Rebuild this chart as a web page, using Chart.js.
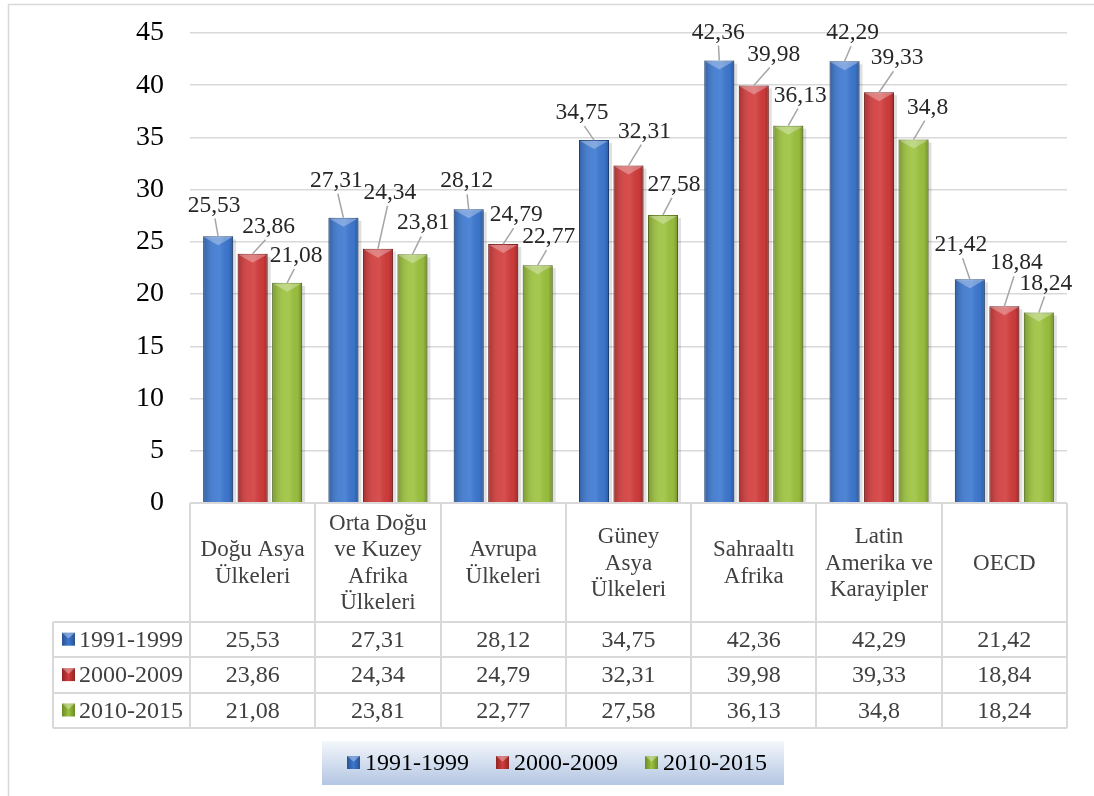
<!DOCTYPE html>
<html lang="tr">
<head>
<meta charset="utf-8">
<title>Bölgelere göre oranlar</title>
<script src="https://cdn.jsdelivr.net/npm/chart.js@4.4.1/dist/chart.umd.min.js"></script>
<style>
  html, body { margin: 0; padding: 0; background: #fff; }
  canvas { display: block; }
</style>
</head>
<body>
<canvas id="grafik" width="1094" height="796"></canvas>
<script>
// kategoriler (tablodaki satır kırılımlarıyla)
const categories = [
    ['Doğu Asya', 'Ülkeleri'],
    ['Orta Doğu', 've Kuzey', 'Afrika', 'Ülkeleri'],
    ['Avrupa', 'Ülkeleri'],
    ['Güney', 'Asya', 'Ülkeleri'],
    ['Sahraaltı', 'Afrika'],
    ['Latin', 'Amerika ve', 'Karayipler'],
    ['OECD']
];

// dönemler
const seriesNames = ['1991-1999', '2000-2009', '2010-2015'];

// değerler
const values1991 = [25.53, 27.31, 28.12, 34.75, 42.36, 42.29, 21.42];
const values2000 = [23.86, 24.34, 24.79, 32.31, 39.98, 39.33, 18.84];
const values2010 = [21.08, 23.81, 22.77, 27.58, 36.13, 34.8, 18.24];

// y ekseni
const yMin = 0;
const yMax = 45;
const yStep = 5;

// renkler
const colors = ['#3d78d0', '#d23c3c', '#9cc23e'];
const borders = ['#2a528f', '#8f2424', '#6a8a26'];
const serif = "'Liberation Serif', 'Times New Roman', serif";

// Türkçe ondalık virgül
function fmt(v) {
    return String(v).replace('.', ',');
}

// küçük kabartmalı kare (tablo ve lejant için)
function drawMarker(ctx, x, y, s, i) {
    const g = ctx.createLinearGradient(x, y, x + s, y);
    g.addColorStop(0, borders[i]);
    g.addColorStop(0.5, colors[i]);
    g.addColorStop(1, borders[i]);
    ctx.fillStyle = g;
    ctx.fillRect(x, y, s, s);
    ctx.fillStyle = 'rgba(255,255,255,0.35)';
    ctx.beginPath();
    ctx.moveTo(x, y);
    ctx.lineTo(x + s, y);
    ctx.lineTo(x + s / 2, y + s * 0.45);
    ctx.closePath();
    ctx.fill();
}

const tablePlugin = {
    id: 'tablo',
    beforeDraw(chart) {
        const ctx = chart.ctx;
        ctx.save();
        ctx.fillStyle = '#fff';
        ctx.fillRect(0, 0, chart.width, chart.height);
        // dış çerçeve
        ctx.strokeStyle = '#d9d9d9';
        ctx.lineWidth = 1.5;
        ctx.beginPath();
        ctx.moveTo(8.5, chart.height);
        ctx.lineTo(8.5, 4.5);
        ctx.lineTo(chart.width, 4.5);
        ctx.stroke();
        ctx.restore();
    },
    beforeDatasetsDraw(chart) {
        // hafif gölge
        const ctx = chart.ctx;
        ctx.save();
        chart.data.datasets.forEach((ds, i) => {
            chart.getDatasetMeta(i).data.forEach(el => {
                const p = el.getProps(['x', 'y', 'base', 'width'], true);
                ctx.fillStyle = 'rgba(0,0,0,0.12)';
                ctx.fillRect(p.x - p.width / 2 + 3, p.y + 3, p.width, p.base - p.y - 3);
            });
        });
        ctx.restore();
    },
    afterDatasetsDraw(chart, args, opts) {
        const ctx = chart.ctx;
        ctx.save();
        chart.data.datasets.forEach((ds, i) => {
            chart.getDatasetMeta(i).data.forEach((el, j) => {
                const p = el.getProps(['x', 'y', 'base', 'width'], true);
                const left = p.x - p.width / 2;
                // silindir gölgelendirmesi
                const g = ctx.createLinearGradient(left, 0, left + p.width, 0);
                g.addColorStop(0, 'rgba(0,0,0,0.22)');
                g.addColorStop(0.4, 'rgba(255,255,255,0.08)');
                g.addColorStop(0.55, 'rgba(255,255,255,0.10)');
                g.addColorStop(0.85, 'rgba(0,0,0,0.04)');
                g.addColorStop(1, 'rgba(0,0,0,0.26)');
                ctx.fillStyle = g;
                ctx.fillRect(left, p.y, p.width, p.base - p.y);
                // üst kabartma
                ctx.fillStyle = 'rgba(255,255,255,0.3)';
                ctx.beginPath();
                ctx.moveTo(left + 1, p.y + 1);
                ctx.lineTo(left + p.width - 1, p.y + 1);
                ctx.lineTo(p.x, p.y + 9);
                ctx.closePath();
                ctx.fill();

                // veri etiketi ve bağlantı çizgisi
                const off = opts.labelOffsets[i][j];
                const lx = p.x + off[0];
                const ly = p.y + off[1];
                ctx.strokeStyle = '#a6a6a6';
                ctx.lineWidth = 1.5;
                ctx.beginPath();
                ctx.moveTo(p.x, p.y);
                ctx.lineTo(lx - off[0] * 0.2, ly + 13);
                ctx.stroke();
                ctx.fillStyle = '#262626';
                ctx.font = '23.5px ' + serif;
                ctx.textAlign = 'center';
                ctx.textBaseline = 'middle';
                ctx.fillText(fmt(ds.data[j]), lx, ly);
            });
        });
        ctx.restore();
    },
    afterDraw(chart, args, opts) {
        const ctx = chart.ctx;
        const area = chart.chartArea;
        const xs = chart.scales.x;
        const n = chart.data.labels.length;
        const colW = (area.right - area.left) / n;
        const catTop = area.bottom;
        const catBottom = catTop + opts.catHeight;
        const rowH = opts.rowHeight;
        const tableBottom = catBottom + rowH * seriesNames.length;
        const tableLeft = opts.tableLeft;

        ctx.save();
        ctx.strokeStyle = '#d9d9d9';
        ctx.lineWidth = 2;
        ctx.beginPath();
        // kategori satırı
        ctx.moveTo(area.left, catTop);
        ctx.lineTo(area.right, catTop);
        for (let k = 0; k <= n; k++) {
            const bx = Math.round(area.left + k * colW);
            ctx.moveTo(bx, catTop);
            ctx.lineTo(bx, tableBottom);
        }
        // veri satırları
        for (let r = 0; r <= seriesNames.length; r++) {
            const yy = Math.round(catBottom + r * rowH);
            ctx.moveTo(tableLeft, yy);
            ctx.lineTo(area.right, yy);
        }
        ctx.moveTo(tableLeft, catBottom);
        ctx.lineTo(tableLeft, tableBottom);
        ctx.stroke();

        // kategori adları
        ctx.fillStyle = '#404040';
        ctx.font = '23px ' + serif;
        ctx.textAlign = 'center';
        ctx.textBaseline = 'middle';
        const lh = 26.5;
        const midY = (catTop + catBottom) / 2 + 1;
        categories.forEach((lines, k) => {
            const cx = xs.getPixelForValue(k);
            const start = midY - (lines.length - 1) * lh / 2;
            lines.forEach((t, m) => ctx.fillText(t, cx, start + m * lh));
        });

        // seri satırları
        ctx.font = '24px ' + serif;
        chart.data.datasets.forEach((ds, i) => {
            const cy = catBottom + rowH * i + rowH / 2;
            drawMarker(ctx, tableLeft + 9, cy - 7, 13, i);
            ctx.fillStyle = '#404040';
            ctx.textAlign = 'left';
            ctx.fillText(ds.label, tableLeft + 26, cy + 1);
            ctx.textAlign = 'center';
            ds.data.forEach((v, k) => {
                ctx.fillText(fmt(v), xs.getPixelForValue(k), cy + 1);
            });
        });

        // lejant
        const lg = opts.legend;
        const grad = ctx.createLinearGradient(0, lg.top, 0, lg.top + lg.height);
        grad.addColorStop(0, '#f4f7fb');
        grad.addColorStop(0.5, '#d3deef');
        grad.addColorStop(1, '#b4c6e2');
        ctx.fillStyle = grad;
        ctx.fillRect(lg.left, lg.top, lg.width, lg.height);
        ctx.font = '24px ' + serif;
        const widths = seriesNames.map(s => ctx.measureText(s).width);
        const sq = 13, gap = 5, itemGap = 27;
        let total = widths.reduce((a, b) => a + b, 0) + seriesNames.length * (sq + gap) + itemGap * (seriesNames.length - 1);
        let x = lg.left + (lg.width - total) / 2 + 4;
        const ly = lg.top + lg.height / 2;
        seriesNames.forEach((s, i) => {
            drawMarker(ctx, x, ly - 7, sq, i);
            x += sq + gap;
            ctx.fillStyle = '#000';
            ctx.textAlign = 'left';
            ctx.textBaseline = 'middle';
            ctx.fillText(s, x, ly + 1);
            x += widths[i] + itemGap;
        });
        ctx.restore();
    }
};

const ctx = document.getElementById('grafik').getContext('2d');
new Chart(ctx, {
    type: 'bar',
    data: {
        labels: categories.map(c => c.join(' ')),
        datasets: [
            { label: seriesNames[0], data: values1991, backgroundColor: colors[0], borderColor: borders[0], borderWidth: 1 },
            { label: seriesNames[1], data: values2000, backgroundColor: colors[1], borderColor: borders[1], borderWidth: 1 },
            { label: seriesNames[2], data: values2010, backgroundColor: colors[2], borderColor: borders[2], borderWidth: 1 }
        ]
    },
    options: {
        responsive: false,
        animation: false,
        devicePixelRatio: 1,
        categoryPercentage: 0.826,
        barPercentage: 0.87,
        layout: {
            padding: { left: 0, top: 33, right: 27, bottom: 293 }
        },
        plugins: {
            legend: { display: false },
            tooltip: { enabled: false },
            tablo: {
                // etiketlerin çubuk tepesine göre kayması [dx, dy]
                labelOffsets: [
                    [[-4, -31], [-7, -37], [-2, -28], [-12, -27], [-1, -28], [8, -28], [-9, -34]],
                    [[16, -27], [12, -56], [13, -29], [16, -34], [20, -31], [18, -34], [12, -43]],
                    [[9, -27], [11, -31], [11, -28], [11, -30], [12, -30], [14, -32], [7, -29]]
                ],
                catHeight: 119,
                rowHeight: 35.4,
                tableLeft: 53,
                legend: { left: 322, top: 741, width: 462, height: 44 }
            }
        },
        scales: {
            x: { display: false },
            y: {
                min: yMin,
                max: yMax,
                ticks: {
                    stepSize: yStep,
                    padding: 26,
                    color: '#000',
                    font: { family: serif, size: 28 }
                },
                grid: { color: '#d9d9d9', lineWidth: 1.5, drawTicks: false },
                border: { display: false },
                afterFit(scale) {
                    scale.width = 190;
                    scale.paddingTop = 0;
                    scale.paddingBottom = 0;
                }
            }
        }
    },
    plugins: [tablePlugin]
});
</script>
</body>
</html>
